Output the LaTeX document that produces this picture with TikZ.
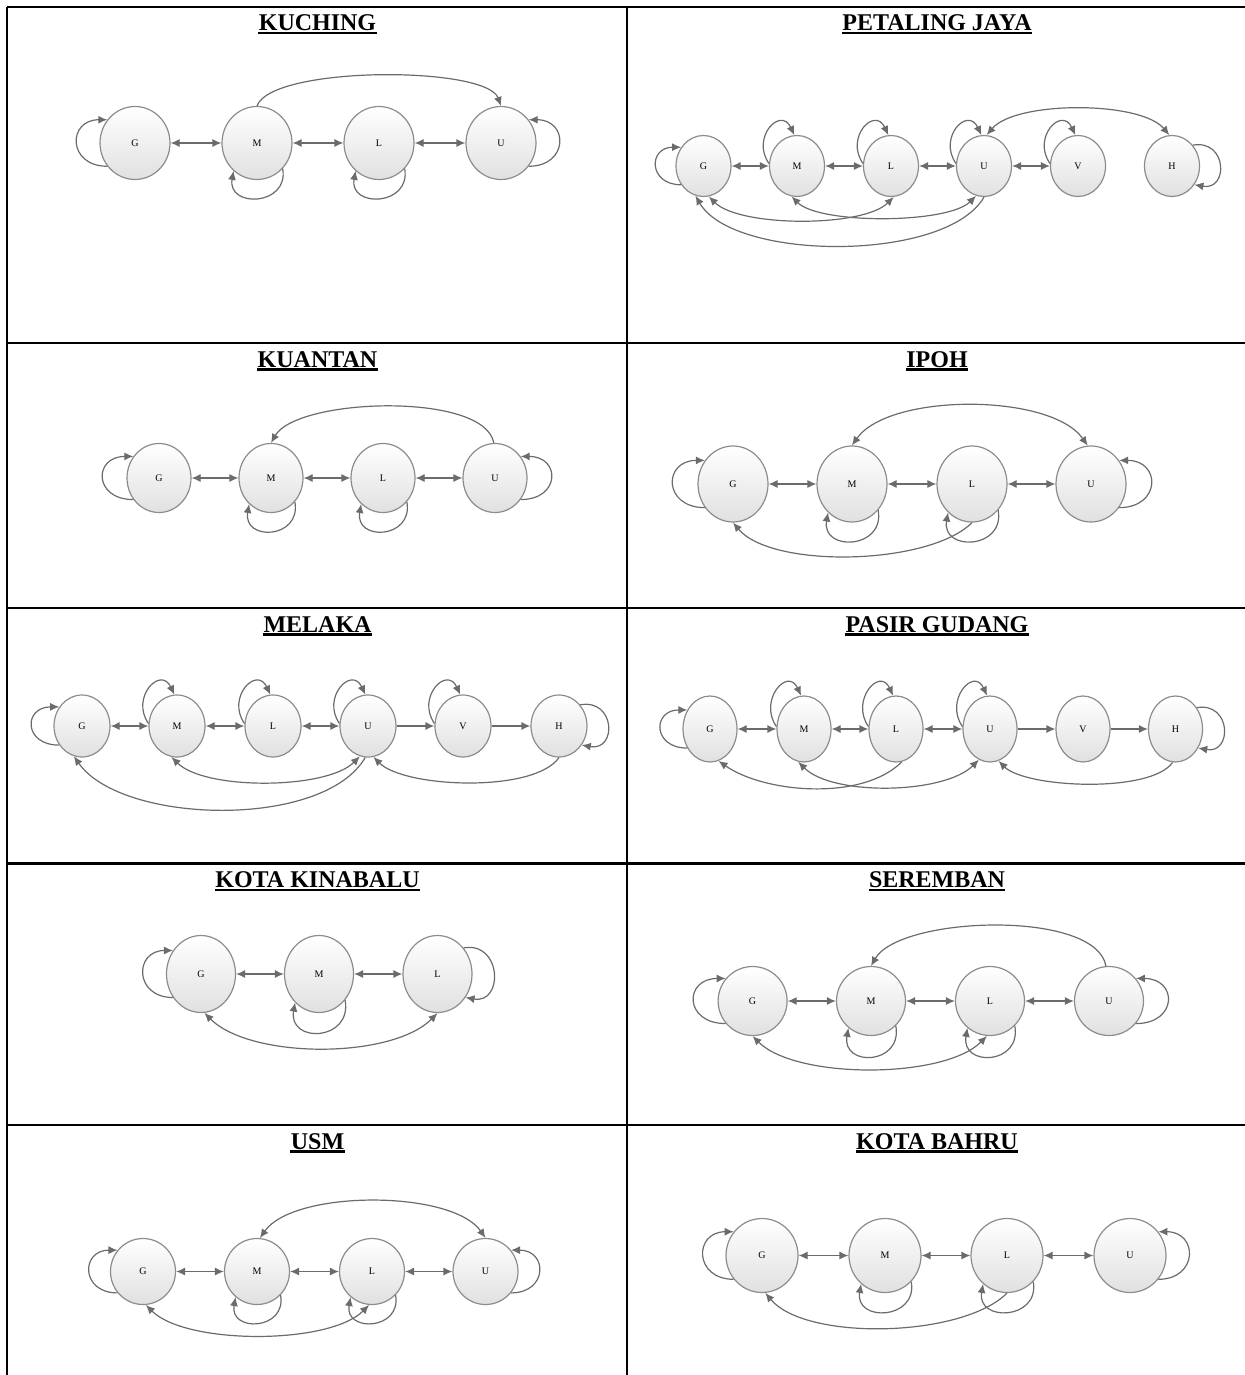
\documentclass[tikz,border=0pt]{standalone}
\usepackage{fontspec}
\setmainfont{Liberation Serif}
\usetikzlibrary{shapes.geometric, arrows.meta}

\tikzset{
  state/.style={ellipse, draw=black!45, line width=0.6pt, top color=white, bottom color=black!12, inner sep=0pt, font=\fontsize{5}{5}\selectfont},
  link/.style={draw=black!58, line width=0.6pt},
  title/.style={inner sep=0pt, anchor=base, font=\fontsize{12}{14}\selectfont\bfseries},
  grid/.style={line width=1.2pt},
}

\begin{document}
\begin{tikzpicture}[x=0.5pt, y=0.5pt, >={Latex[length=4.5pt, width=4pt]}]
  \useasboundingbox (0,0) rectangle (1245,-1375);

  % table
  \foreach \y in {7, 343, 608, 863.5, 1125}
    \draw[grid] (7,-\y) -- (1245,-\y);
  \draw[grid] (7,-7) -- (7,-1375);
  \draw[grid] (627,-7) -- (627,-1375);

  % KUCHING
  \node[title] (tKu) at (317.5,-30.5) {KUCHING};
  \node[state, minimum width=35pt, minimum height=36.5pt] (kuG) at (135,-143) {G};
  \node[state, minimum width=35pt, minimum height=36.5pt] (kuM) at (257,-143) {M};
  \node[state, minimum width=35pt, minimum height=36.5pt] (kuL) at (379,-143) {L};
  \node[state, minimum width=35pt, minimum height=36.5pt] (kuU) at (501,-143) {U};
  \draw[link, <->] (kuG) -- (kuM);
  \draw[link, <->] (kuM) -- (kuL);
  \draw[link, <->] (kuL) -- (kuU);
  \draw[link, ->] (kuM.north) to[out=70, in=110, looseness=0.45] (kuU.north);
  \draw[link, ->] (kuG.220) to[out=180, in=180, distance=20pt] (kuG.140);
  \draw[link, ->] (kuM.-45) to[out=-80, in=-100, distance=19pt] (kuM.-130);
  \draw[link, ->] (kuL.-45) to[out=-80, in=-100, distance=19pt] (kuL.-130);
  \draw[link, ->] (kuU.-40) to[out=0, in=0, distance=20pt] (kuU.40);

  % PETALING JAYA
  \node[title] (tPj) at (937,-30.5) {PETALING JAYA};
  \node[state, minimum width=27.5pt, minimum height=30.5pt] (pjG) at (703.5,-166) {G};
  \node[state, minimum width=27.5pt, minimum height=30.5pt] (pjM) at (797,-166) {M};
  \node[state, minimum width=27.5pt, minimum height=30.5pt] (pjL) at (891,-166) {L};
  \node[state, minimum width=27.5pt, minimum height=30.5pt] (pjU) at (984,-166) {U};
  \node[state, minimum width=27.5pt, minimum height=30.5pt] (pjV) at (1078,-166) {V};
  \node[state, minimum width=27.5pt, minimum height=30.5pt] (pjH) at (1172,-166) {H};
  \draw[link, <->] (pjG) -- (pjM);
  \draw[link, <->] (pjM) -- (pjL);
  \draw[link, <->] (pjL) -- (pjU);
  \draw[link, <->] (pjU) -- (pjV);
  \draw[link, <->] (pjU.85) to[out=50, in=130, looseness=0.63] (pjH.95);
  \draw[link, <->] (pjG.-80) to[out=-45, in=-135, looseness=0.6] (pjL.-85);
  \draw[link, <->] (pjM.-100) to[out=-45, in=-135, looseness=0.55] (pjU.-105);
  \draw[link, ->] (pjU.-90) to[out=-120, in=-60, looseness=0.67] (pjG.-105);
  \draw[link, ->] (pjG.220) to[out=180, in=180, distance=16.5pt] (pjG.140);
  \draw[link, ->] (pjM.175) to[out=125, in=115, distance=16pt] (pjM.95);
  \draw[link, ->] (pjL.175) to[out=125, in=115, distance=16pt] (pjL.95);
  \draw[link, ->] (pjU.175) to[out=125, in=115, distance=16pt] (pjU.95);
  \draw[link, ->] (pjV.175) to[out=125, in=115, distance=16pt] (pjV.95);
  \draw[link, ->] (pjH.45) to[out=10, in=-10, distance=17.5pt] (pjH.-40);

  % KUANTAN
  \node[title] (tKn) at (317.5,-367) {KUANTAN};
  \node[state, minimum width=32pt, minimum height=34.5pt] (knG) at (159,-478) {G};
  \node[state, minimum width=32pt, minimum height=34.5pt] (knM) at (271,-478) {M};
  \node[state, minimum width=32pt, minimum height=34.5pt] (knL) at (383,-478) {L};
  \node[state, minimum width=32pt, minimum height=34.5pt] (knU) at (495,-478) {U};
  \draw[link, <->] (knG) -- (knM);
  \draw[link, <->] (knM) -- (knL);
  \draw[link, <->] (knL) -- (knU);
  \draw[link, ->] (knU.92) to[out=100, in=60, looseness=0.6] (knM.90);
  \draw[link, ->] (knG.220) to[out=180, in=180, distance=20pt] (knG.140);
  \draw[link, ->] (knM.-45) to[out=-80, in=-100, distance=19pt] (knM.-130);
  \draw[link, ->] (knL.-45) to[out=-80, in=-100, distance=19pt] (knL.-130);
  \draw[link, ->] (knU.-40) to[out=0, in=0, distance=20pt] (knU.40);

  % IPOH
  \node[title] (tIp) at (937,-367) {IPOH};
  \node[state, minimum width=35pt, minimum height=38pt] (ipG) at (733,-484) {G};
  \node[state, minimum width=35pt, minimum height=38pt] (ipM) at (852,-484) {M};
  \node[state, minimum width=35pt, minimum height=38pt] (ipL) at (972,-484) {L};
  \node[state, minimum width=35pt, minimum height=38pt] (ipU) at (1091,-484) {U};
  \draw[link, <->] (ipG) -- (ipM);
  \draw[link, <->] (ipM) -- (ipL);
  \draw[link, <->] (ipL) -- (ipU);
  \draw[link, <->] (ipM.90) to[out=55, in=125, looseness=0.7] (ipU.95);
  \draw[link, ->] (ipL.-90) to[out=-135, in=-50, looseness=0.65] (ipG.-90);
  \draw[link, ->] (ipG.220) to[out=180, in=180, distance=21pt] (ipG.140);
  \draw[link, ->] (ipM.-45) to[out=-80, in=-100, distance=20pt] (ipM.-130);
  \draw[link, ->] (ipL.-45) to[out=-80, in=-100, distance=20pt] (ipL.-130);
  \draw[link, ->] (ipU.-40) to[out=0, in=0, distance=21pt] (ipU.40);

  % MELAKA
  \node[title] (tMl) at (317.5,-632) {MELAKA};
  \node[state, minimum width=28pt, minimum height=31pt] (mlG) at (82,-726) {G};
  \node[state, minimum width=28pt, minimum height=31pt] (mlM) at (177,-726) {M};
  \node[state, minimum width=28pt, minimum height=31pt] (mlL) at (273,-726) {L};
  \node[state, minimum width=28pt, minimum height=31pt] (mlU) at (368,-726) {U};
  \node[state, minimum width=28pt, minimum height=31pt] (mlV) at (463,-726) {V};
  \node[state, minimum width=28pt, minimum height=31pt] (mlH) at (559,-726) {H};
  \draw[link, <->] (mlG) -- (mlM);
  \draw[link, <->] (mlM) -- (mlL);
  \draw[link, <->] (mlL) -- (mlU);
  \draw[link, ->] (mlU) -- (mlV);
  \draw[link, ->] (mlV) -- (mlH);
  \draw[link, <->] (mlM.-100) to[out=-45, in=-135, looseness=0.64] (mlU.-105);
  \draw[link, ->] (mlU.-95) to[out=-120, in=-55, looseness=0.73] (mlG.-105);
  \draw[link, ->] (mlH.-90) to[out=-125, in=-45, looseness=0.6] (mlU.-80);
  \draw[link, ->] (mlG.220) to[out=180, in=180, distance=18pt] (mlG.140);
  \draw[link, ->] (mlM.175) to[out=125, in=115, distance=16pt] (mlM.95);
  \draw[link, ->] (mlL.175) to[out=125, in=115, distance=16pt] (mlL.95);
  \draw[link, ->] (mlU.175) to[out=125, in=115, distance=16pt] (mlU.95);
  \draw[link, ->] (mlV.175) to[out=125, in=115, distance=16pt] (mlV.95);
  \draw[link, ->] (mlH.45) to[out=10, in=-10, distance=18pt] (mlH.-40);

  % PASIR GUDANG
  \node[title] (tPg) at (937,-632) {PASIR GUDANG};
  \node[state, minimum width=27pt, minimum height=33pt] (pgG) at (710,-729) {G};
  \node[state, minimum width=27pt, minimum height=33pt] (pgM) at (804,-729) {M};
  \node[state, minimum width=27pt, minimum height=33pt] (pgL) at (896,-729) {L};
  \node[state, minimum width=27pt, minimum height=33pt] (pgU) at (990,-729) {U};
  \node[state, minimum width=27pt, minimum height=33pt] (pgV) at (1083,-729) {V};
  \node[state, minimum width=27pt, minimum height=33pt] (pgH) at (1175.5,-729) {H};
  \draw[link, <->] (pgG) -- (pgM);
  \draw[link, <->] (pgM) -- (pgL);
  \draw[link, <->] (pgL) -- (pgU);
  \draw[link, ->] (pgU) -- (pgV);
  \draw[link, ->] (pgV) -- (pgH);
  \draw[link, ->] (pgL.-80) to[out=-135, in=-35, looseness=0.78] (pgG.-75);
  \draw[link, <->] (pgM.-100) to[out=-45, in=-135, looseness=0.69] (pgU.-110);
  \draw[link, ->] (pgH.-95) to[out=-125, in=-45, looseness=0.56] (pgU.-75);
  \draw[link, ->] (pgG.220) to[out=180, in=180, distance=17.5pt] (pgG.140);
  \draw[link, ->] (pgM.175) to[out=125, in=115, distance=16pt] (pgM.95);
  \draw[link, ->] (pgL.175) to[out=125, in=115, distance=16pt] (pgL.95);
  \draw[link, ->] (pgU.175) to[out=125, in=115, distance=16pt] (pgU.95);
  \draw[link, ->] (pgH.45) to[out=10, in=-10, distance=17.5pt] (pgH.-40);

  % KOTA KINABALU
  \node[title] (tKk) at (317.5,-887.5) {KOTA KINABALU};
  \node[state, minimum width=34.5pt, minimum height=38.5pt] (kkG) at (201,-974) {G};
  \node[state, minimum width=34.5pt, minimum height=38.5pt] (kkM) at (319,-974) {M};
  \node[state, minimum width=34.5pt, minimum height=38.5pt] (kkL) at (437.5,-974) {L};
  \draw[link, <->] (kkG) -- (kkM);
  \draw[link, <->] (kkM) -- (kkL);
  \draw[link, <->] (kkG.-85) to[out=-45, in=-135, looseness=0.72] (kkL.-90);
  \draw[link, ->] (kkG.220) to[out=180, in=180, distance=19.5pt] (kkG.140);
  \draw[link, ->] (kkM.-45) to[out=-80, in=-100, distance=21pt] (kkM.-130);
  \draw[link, ->] (kkL.45) to[out=10, in=-10, distance=19.5pt] (kkL.-40);

  % SEREMBAN
  \node[title] (tSr) at (937,-887.5) {SEREMBAN};
  \node[state, minimum width=34.5pt, minimum height=34.5pt] (srG) at (752.6,-1001) {G};
  \node[state, minimum width=34.5pt, minimum height=34.5pt] (srM) at (871,-1001) {M};
  \node[state, minimum width=34.5pt, minimum height=34.5pt] (srL) at (990,-1001) {L};
  \node[state, minimum width=34.5pt, minimum height=34.5pt] (srU) at (1109,-1001) {U};
  \draw[link, <->] (srG) -- (srM);
  \draw[link, <->] (srM) -- (srL);
  \draw[link, <->] (srL) -- (srU);
  \draw[link, ->] (srU.95) to[out=100, in=60, looseness=0.63] (srM.90);
  \draw[link, <->] (srG.-90) to[out=-45, in=-135, looseness=0.67] (srL.-95);
  \draw[link, ->] (srG.220) to[out=180, in=180, distance=21pt] (srG.140);
  \draw[link, ->] (srM.-45) to[out=-80, in=-100, distance=20pt] (srM.-130);
  \draw[link, ->] (srL.-45) to[out=-80, in=-100, distance=20pt] (srL.-130);
  \draw[link, ->] (srU.-40) to[out=0, in=0, distance=21pt] (srU.40);

  % USM
  \node[title] (tUs) at (317.5,-1149) {USM};
  \node[state, minimum width=32.5pt, minimum height=33pt] (usG) at (143,-1271.5) {G};
  \node[state, minimum width=32.5pt, minimum height=33pt] (usM) at (257,-1271.5) {M};
  \node[state, minimum width=32.5pt, minimum height=33pt] (usL) at (372,-1271.5) {L};
  \node[state, minimum width=32.5pt, minimum height=33pt] (usU) at (485.5,-1271.5) {U};
  \draw[link, <->] (usG) -- (usM);
  \draw[link, <->] (usM) -- (usL);
  \draw[link, <->] (usL) -- (usU);
  \draw[link, <->] (usM.85) to[out=55, in=125, looseness=0.67] (usU.90);
  \draw[link, <->] (usG.-85) to[out=-45, in=-135, looseness=0.65] (usL.-95);
  \draw[link, ->] (usG.220) to[out=180, in=180, distance=18.5pt] (usG.140);
  \draw[link, ->] (usM.-45) to[out=-80, in=-100, distance=18pt] (usM.-130);
  \draw[link, ->] (usL.-45) to[out=-80, in=-100, distance=18pt] (usL.-130);
  \draw[link, ->] (usU.-40) to[out=0, in=0, distance=18.5pt] (usU.40);

  % KOTA BAHRU
  \node[title] (tKb) at (937,-1149) {KOTA BAHRU};
  \node[state, minimum width=36pt, minimum height=37pt] (kbG) at (762,-1255.5) {G};
  \node[state, minimum width=36pt, minimum height=37pt] (kbM) at (885,-1255.5) {M};
  \node[state, minimum width=36pt, minimum height=37pt] (kbL) at (1007,-1255.5) {L};
  \node[state, minimum width=36pt, minimum height=37pt] (kbU) at (1130,-1255.5) {U};
  \draw[link, <->] (kbG) -- (kbM);
  \draw[link, <->] (kbM) -- (kbL);
  \draw[link, <->] (kbL) -- (kbU);
  \draw[link, ->] (kbL.-90) to[out=-135, in=-50, looseness=0.67] (kbG.-85);
  \draw[link, ->] (kbG.220) to[out=180, in=180, distance=20pt] (kbG.140);
  \draw[link, ->] (kbM.-45) to[out=-80, in=-100, distance=19.5pt] (kbM.-130);
  \draw[link, ->] (kbL.-45) to[out=-80, in=-100, distance=19.5pt] (kbL.-130);
  \draw[link, ->] (kbU.-40) to[out=0, in=0, distance=20pt] (kbU.40);

  % underlined titles
  \foreach \t in {tKu, tPj, tKn, tIp, tMl, tPg, tKk, tSr, tUs, tKb}
    \draw[line width=1.1pt] ([yshift=-1.2pt]\t.base west) -- ([yshift=-1.2pt]\t.base east);
\end{tikzpicture}
\end{document}
